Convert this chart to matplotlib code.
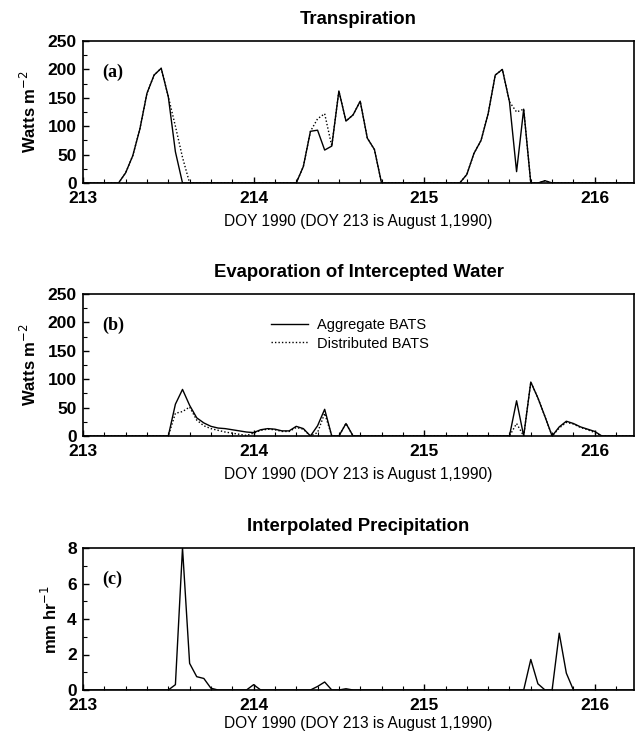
import numpy as np
import matplotlib
matplotlib.use("Agg")
import matplotlib.pyplot as plt
from matplotlib.ticker import MultipleLocator, FixedLocator

plt.rcParams['font.family'] = ['Liberation Sans', 'DejaVu Sans']

# ---------------- data (hours after DOY 213.0) ----------------
transp_agg_h = [0, 5, 6, 7, 8, 9, 10, 11, 12, 13, 14,
                30, 31, 32, 33, 34, 35, 36, 37, 38, 39, 40, 41, 42,
                53, 54, 55, 56, 57, 58, 59, 60, 61, 62, 63, 64, 65, 66, 78]
transp_agg = [0, 0, 18, 48, 95, 158, 190, 202, 152, 55, 0,
              0, 29, 91, 93, 58, 65, 162, 109, 120, 144, 79, 59, 0,
              0, 15, 52, 75, 122, 190, 200, 143, 20, 130, 0, 0, 4, 0, 0]

transp_dist_h = [0, 5, 6, 7, 8, 9, 10, 11, 12, 13, 14, 15,
                 30, 31, 32, 33, 34, 35, 36, 37, 38, 39, 40, 41, 42,
                 53, 54, 55, 56, 57, 58, 59, 60, 61, 62, 63, 64, 65, 66, 78]
transp_dist = [0, 0, 18, 48, 95, 158, 190, 202, 152, 100, 45, 0,
               0, 29, 91, 113, 122, 65, 162, 109, 120, 144, 79, 59, 0,
               0, 15, 52, 75, 122, 190, 200, 143, 125, 130, 0, 0, 4, 0, 0]

evap_h = [0] + list(range(12, 39)) + list(range(60, 74)) + [78]
evap_agg = ([0] +
            [0, 56, 82, 54, 32, 23, 17, 14, 13, 11,
             9, 7, 6, 11, 13, 12, 9, 9, 17, 13,
             0, 18, 47, 0, 0, 22, 0] +
            [0, 62, 0, 95, 67, 34, 0, 16, 26, 22, 16, 12, 8, 0] +
            [0])
evap_dist = ([0] +
             [0, 40, 43, 51, 28, 18, 13, 10, 7, 5,
              3, 1, 5, 10, 12, 11, 8, 8, 15, 12,
              0, 6, 40, 0, 0, 22, 0] +
             [0, 22, 0, 95, 67, 34, 0, 14, 24, 21, 15, 11, 6, 0] +
             [0])

precip_h = [0, 12, 13, 14, 15, 16, 17, 18, 19,
            23, 24, 25,
            32, 33, 34, 35, 36, 37, 38,
            62, 63, 64, 65, 66, 67, 68, 69, 78]
precip = [0, 0, 0.3, 8.0, 1.5, 0.75, 0.65, 0.1, 0,
          0, 0.3, 0,
          0, 0.2, 0.45, 0, 0, 0.07, 0,
          0, 1.72, 0.35, 0, 0, 3.2, 0.95, 0, 0]

doy_start = 213
xticks = [213, 214, 215, 216]
xlabel = "DOY 1990 (DOY 213 is August 1,1990)"
titles = ["Transpiration", "Evaporation of Intercepted Water", "Interpolated Precipitation"]
panel_tags = ["(a)", "(b)", "(c)"]
series_names = ["Aggregate BATS", "Distributed BATS"]


def to_doy(h):
    return doy_start + np.asarray(h, dtype=float) / 24.0


fig = plt.figure(figsize=(6.42, 7.35), dpi=100)
L, W, H = 83 / 642, 551 / 642, 142 / 735
bottoms = [1 - 183 / 735, 1 - 436 / 735, 1 - 690 / 735]
axes = [fig.add_axes([L, b, W, H]) for b in bottoms]

dotted = (0, (1, 1.5))
ax_a, ax_b, ax_c = axes
ax_a.plot(to_doy(transp_agg_h), transp_agg, color='black', lw=1.0, ls='-')
ax_a.plot(to_doy(transp_dist_h), transp_dist, color='black', lw=1.0, ls=dotted)
ax_b.plot(to_doy(evap_h), evap_agg, color='black', lw=1.0, ls='-', label=series_names[0])
ax_b.plot(to_doy(evap_h), evap_dist, color='black', lw=1.0, ls=dotted, label=series_names[1])
ax_c.plot(to_doy(precip_h), precip, color='black', lw=1.0)

label_pads = [6, 6, 2.5]
for ax, title, tag, lp in zip(axes, titles, panel_tags, label_pads):
    ax.set_xlim(213, 216.23)
    ax.xaxis.set_major_locator(FixedLocator(xticks))
    ax.xaxis.set_minor_locator(MultipleLocator(0.125))
    ax.set_xticklabels([str(t) for t in xticks])
    ax.tick_params(axis='both', which='both', direction='in', top=False, right=False)
    ax.tick_params(axis='both', which='major', length=4.5, width=1.0, labelsize=12.5)
    ax.tick_params(axis='x', which='major', pad=5.5)
    ax.tick_params(axis='y', which='major', pad=4.5)
    ax.tick_params(axis='both', which='minor', length=3, width=0.8)
    for sp in ax.spines.values():
        sp.set_linewidth(1.2)
    ax.set_title(title, fontsize=13.3, fontweight='bold', pad=12)
    ax.set_xlabel(xlabel, fontsize=11.2, labelpad=lp)
    ax.text(0.035, 0.78, tag, transform=ax.transAxes, fontsize=13,
            fontweight='bold', family='Liberation Serif', va='center', ha='left')

for ax in (ax_a, ax_b):
    ax.set_ylim(0, 250)
    ax.yaxis.set_major_locator(MultipleLocator(50))
    ax.yaxis.set_minor_locator(MultipleLocator(25))
    ax.set_ylabel("Watts m$^{-2}$", fontsize=12, fontweight='bold')
    ax.yaxis.set_label_coords(-0.08, 0.5)

ax_c.set_ylim(0, 8)
ax_c.yaxis.set_major_locator(MultipleLocator(2))
ax_c.yaxis.set_minor_locator(MultipleLocator(1))
ax_c.set_ylabel("mm hr$^{-1}$", fontsize=12, fontweight='bold')
ax_c.yaxis.set_label_coords(-0.042, 0.5)

for ax in axes:
    for lab in ax.get_xticklabels() + ax.get_yticklabels():
        lab.set_fontweight('bold')

ax_b.legend(loc='upper left', bbox_to_anchor=(0.342, 0.83), frameon=False,
            fontsize=10.5, handlelength=2.5, handletextpad=0.6,
            labelspacing=0.3, borderpad=0, borderaxespad=0)

fig.savefig("out.png", dpi=100)
